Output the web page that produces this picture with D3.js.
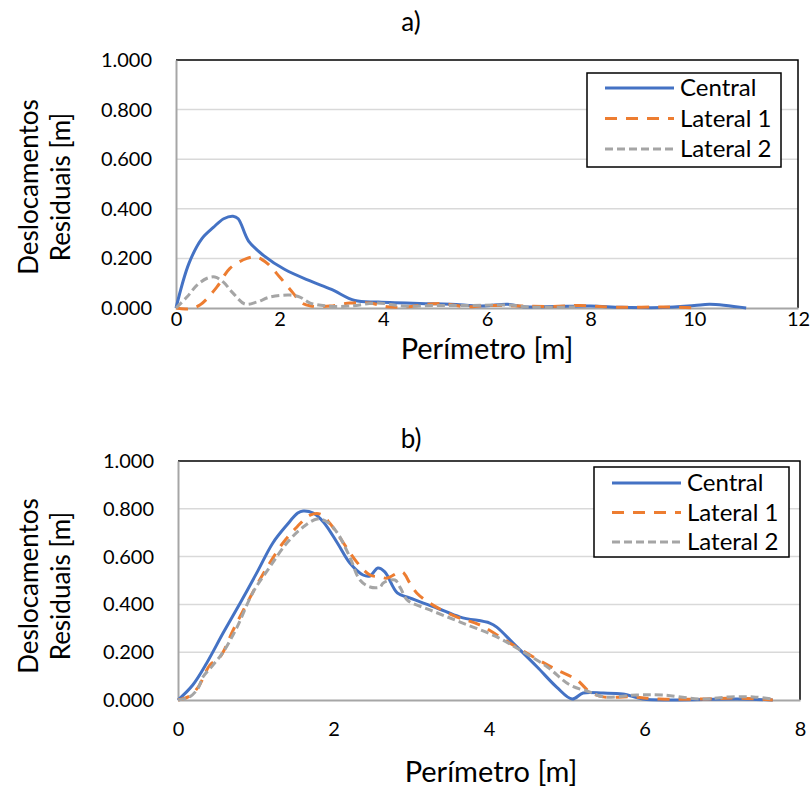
<!DOCTYPE html>
<html>
<head>
<meta charset="utf-8">
<script src="https://cdn.jsdelivr.net/npm/d3@7"></script>
<style>
  html, body { margin: 0; padding: 0; background: #fff; }
  svg { display: block; font-family: Lato, "Noto Sans", sans-serif; }
</style>
</head>
<body>
<svg id="fig" width="810" height="787"></svg>
<script>
// Series names and styling keys
const seriesNames = ["Central", "Lateral 1", "Lateral 2"];
const yTicks = [0, 0.2, 0.4, 0.6, 0.8, 1.0];
const xTicksA = [0, 2, 4, 6, 8, 10, 12];
const xTicksB = [0, 2, 4, 6, 8];

// Panel a) — [perímetro (m), deslocamento residual (m)]
const centralA = [[0,0],[0.25,0.18],[0.5,0.28],[0.72,0.325],[0.92,0.36],[1.1,0.37],[1.2,0.36],[1.4,0.27],[1.7,0.21],[2.1,0.155],[2.6,0.108],[3.0,0.075],[3.45,0.03],[3.9,0.024],[4.7,0.018],[5.3,0.015],[5.9,0.008],[6.4,0.015],[6.7,0.005],[7.3,0.006],[8.0,0.008],[8.6,0.003],[9.4,0.002],[10.0,0.01],[10.3,0.015],[11.0,0.0]];
const lateral1A = [[0,0],[0.22,-0.004],[0.46,0.012],[0.79,0.085],[1.04,0.16],[1.37,0.2],[1.56,0.205],[1.76,0.18],[2.0,0.125],[2.26,0.06],[2.43,0.02],[2.6,0.008],[2.97,0.008],[3.36,0.02],[3.74,0.02],[4.07,0.005],[4.4,0.004],[5.1,0.018],[5.6,0.005],[6.0,0.01],[7.2,0.006],[7.8,0.01],[8.5,0.003],[9.5,0.004],[10.1,0.0]];
const lateral2A = [[0,0],[0.21,0.044],[0.41,0.093],[0.6,0.12],[0.75,0.125],[0.91,0.105],[1.1,0.06],[1.33,0.016],[1.56,0.024],[1.81,0.044],[2.2,0.052],[2.39,0.044],[2.59,0.02],[2.91,0.008],[3.36,0.008],[3.88,0.02],[4.38,0.008],[5.0,0.01],[5.6,0.01],[6.4,0.012],[6.8,0.004],[7.7,0.004]];

// Panel b)
const centralB = [[0,0],[0.19,0.063],[0.37,0.155],[0.58,0.28],[0.8,0.406],[1.02,0.536],[1.22,0.657],[1.4,0.732],[1.54,0.782],[1.61,0.791],[1.74,0.782],[1.87,0.745],[2.05,0.657],[2.21,0.573],[2.38,0.523],[2.47,0.519],[2.57,0.552],[2.66,0.536],[2.82,0.448],[2.98,0.427],[3.33,0.385],[3.63,0.347],[4.01,0.322],[4.1,0.305],[4.31,0.238],[4.62,0.138],[4.87,0.054],[5.07,0.004],[5.21,0.029],[5.47,0.029],[5.72,0.025],[5.98,0.004],[6.33,0.0],[7.19,0.004],[7.65,0.0]];
const lateral1B = [[0,0],[0.13,0.013],[0.26,0.054],[0.41,0.146],[0.54,0.18],[0.71,0.293],[0.93,0.431],[1.14,0.552],[1.35,0.657],[1.53,0.724],[1.7,0.774],[1.83,0.778],[1.95,0.741],[2.12,0.661],[2.3,0.577],[2.47,0.523],[2.6,0.515],[2.69,0.51],[2.88,0.536],[2.98,0.49],[3.07,0.448],[3.28,0.397],[3.59,0.347],[3.88,0.314],[4.27,0.238],[4.57,0.18],[4.87,0.126],[5.13,0.084],[5.3,0.033],[5.47,0.013],[5.81,0.013],[6.2,0.004],[6.75,0.004],[7.19,0.008],[7.65,0.0]];
const lateral2B = [[0,0],[0.15,0.013],[0.26,0.05],[0.32,0.096],[0.45,0.146],[0.58,0.2],[0.76,0.305],[0.96,0.448],[1.18,0.556],[1.4,0.657],[1.61,0.724],[1.79,0.757],[1.92,0.745],[2.05,0.699],[2.21,0.598],[2.34,0.502],[2.47,0.473],[2.6,0.473],[2.64,0.49],[2.79,0.502],[2.86,0.469],[2.95,0.418],[3.24,0.377],[3.63,0.326],[4.1,0.264],[4.4,0.209],[4.75,0.138],[5.04,0.063],[5.3,0.033],[5.47,0.013],[5.9,0.021],[6.24,0.021],[6.72,0.004],[7.1,0.013],[7.4,0.013],[7.65,0.004]];

const colors = ["#4472C4", "#ED7D31", "#A5A5A5"];
const dashes = [null, "12,9", "8,4"];

const svg = d3.select("#fig");

function fmt(v) { return d3.format(".3f")(v); }

function drawPanel(cfg) {
  const g = svg.append("g");
  const x = d3.scaleLinear().domain([0, cfg.xMax]).range([cfg.left, cfg.right]);
  const y = d3.scaleLinear().domain([0, 1]).range([cfg.bottom, cfg.top]);

  // horizontal gridlines
  g.selectAll("line.grid").data(yTicks.filter(t => t > 0 && t < 1)).join("line")
    .attr("x1", cfg.left).attr("x2", cfg.right)
    .attr("y1", d => y(d)).attr("y2", d => y(d))
    .attr("stroke", "#D9D9D9").attr("stroke-width", 1.5);

  // top and right frame
  g.append("path")
    .attr("d", `M${cfg.left},${cfg.top}H${cfg.right}V${cfg.bottom}`)
    .attr("fill", "none").attr("stroke", "#000").attr("stroke-width", 1.5);

  // y axis
  const yAxis = d3.axisLeft(y).tickValues(yTicks).tickFormat(fmt).tickSize(0).tickPadding(24);
  const ya = g.append("g").attr("transform", `translate(${cfg.left},0)`).call(yAxis);
  ya.select(".domain").attr("stroke", "#A6A6A6").attr("stroke-width", 2);
  ya.selectAll("text").attr("font-size", 20).attr("fill", "#000").attr("font-family", "Lato");

  // x axis
  const xAxis = d3.axisBottom(x).tickValues(cfg.xTicks).tickFormat(d3.format("d")).tickSize(0).tickPadding(cfg.xPad);
  const xa = g.append("g").attr("transform", `translate(0,${cfg.bottom})`).call(xAxis);
  xa.select(".domain").attr("stroke", "#A6A6A6").attr("stroke-width", 2);
  xa.selectAll("text").attr("font-size", 20).attr("fill", "#000").attr("font-family", "Lato");

  // series
  const line = d3.line().x(d => x(d[0])).y(d => y(d[1])).curve(d3.curveCatmullRom.alpha(0.5));
  cfg.series.forEach((s, i) => {
    g.append("path").datum(s).attr("d", line)
      .attr("fill", "none").attr("stroke", colors[i]).attr("stroke-width", 3)
      .attr("stroke-dasharray", dashes[i]);
  });

  // titles
  g.append("text").attr("x", 411).attr("y", cfg.titleY).attr("text-anchor", "middle")
    .attr("font-size", 26).text(cfg.title);
  g.append("text").attr("x", cfg.xTitleX).attr("y", cfg.xTitleY).attr("text-anchor", "middle")
    .attr("font-size", 29).text("Perímetro [m]");
  const yt = g.append("text").attr("transform", `translate(0,${cfg.yTitleY}) rotate(-90)`)
    .attr("text-anchor", "middle").attr("font-size", 26);
  yt.append("tspan").attr("x", 0).attr("y", 38).text("Deslocamentos");
  yt.append("tspan").attr("x", 0).attr("y", 70).text("Residuais [m]");

  // legend
  const lg = g.append("g");
  lg.append("rect").attr("x", cfg.legX).attr("y", cfg.legY).attr("width", cfg.legW).attr("height", cfg.legH)
    .attr("fill", "#fff").attr("stroke", "#000").attr("stroke-width", 1.5);
  seriesNames.forEach((n, i) => {
    const ly = cfg.legY + cfg.legRow0 + i * cfg.legStep;
    lg.append("line").attr("x1", cfg.legX + 18).attr("x2", cfg.legX + 87)
      .attr("y1", ly).attr("y2", ly)
      .attr("stroke", colors[i]).attr("stroke-width", 3).attr("stroke-dasharray", dashes[i]);
    lg.append("text").attr("x", cfg.legX + 93).attr("y", ly + 8).attr("font-size", 24).text(n);
  });
}

drawPanel({
  title: "a)", titleY: 31, xMax: 12, xTicks: xTicksA, xPad: 4,
  left: 176, right: 798, top: 60, bottom: 308,
  series: [centralA, lateral1A, lateral2A],
  xTitleX: 487, xTitleY: 359, yTitleY: 187,
  legX: 587, legY: 73, legW: 194, legH: 94, legRow0: 15, legStep: 30.5
});

drawPanel({
  title: "b)", titleY: 448, xMax: 8, xTicks: xTicksB, xPad: 22,
  left: 178, right: 800, top: 461, bottom: 700,
  series: [centralB, lateral1B, lateral2B],
  xTitleX: 491, xTitleY: 782, yTitleY: 586,
  legX: 594, legY: 467, legW: 195, legH: 90, legRow0: 16, legStep: 29.5
});
</script>
</body>
</html>
